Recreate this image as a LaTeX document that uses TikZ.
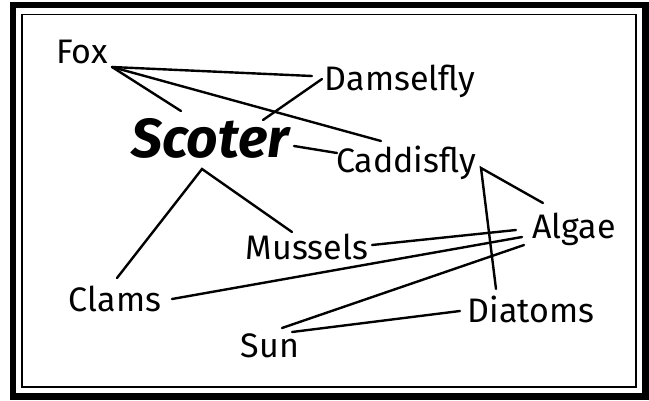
\documentclass[tikz,border=0pt]{standalone}
\usepackage{fontspec}
\setmainfont{Fira Sans}
\begin{document}
\begin{tikzpicture}[x=1pt,y=-1pt,
  lbl/.style={font=\fontsize{34}{38}\selectfont, inner sep=0pt, anchor=base},
  big/.style={font=\fontsize{55}{60}\selectfont\bfseries\itshape, inner sep=0pt, anchor=base},
  link/.style={line width=2.4pt, line cap=round},
  frame/.style={line width=6.5pt},
  innerframe/.style={line width=1.6pt}]
\useasboundingbox (0,0) rectangle (649,400);
\draw[frame] (13.2,5) rectangle (645.5,396.5);
\draw[innerframe] (21.8,14.5) rectangle (636.2,386.8);
% labels
\node[lbl] (fox) at (82,63) {Fox};
\node[lbl] (dam) at (400,90) {Damselfly};
\node[big] (sco) at (210,157) {Scoter};
\node[lbl] (cad) at (406,172) {Caddisfly};
\node[lbl] (alg) at (574,238) {Algae};
\node[lbl] (mus) at (307,259) {Mussels};
\node[lbl] (cla) at (115,311) {Clams};
\node[lbl] (dia) at (531,322) {Diatoms};
\node[lbl] (sun) at (270,357) {Sun};
% connector end points
\coordinate (foxA) at (112,67);
\coordinate (scoTL) at (181,111);
\coordinate (damL) at (312,76);
\coordinate (cadTL) at (381,141);
\coordinate (damB) at (322,79);
\coordinate (scoTR) at (263,120);
\coordinate (scoR) at (294,146);
\coordinate (cadL) at (337,153);
\coordinate (scoB) at (202,169);
\coordinate (claT) at (117,278);
\coordinate (musT) at (292,232);
\coordinate (cadR) at (481,168);
\coordinate (algT) at (543,203);
\coordinate (diaT) at (496,289);
\coordinate (algL1) at (516,230);
\coordinate (musR) at (372,245);
\coordinate (algL2) at (522,237);
\coordinate (claR) at (172,299);
\coordinate (algL3) at (524,245);
\coordinate (sunT) at (282,328);
\coordinate (sunR) at (292,332);
\coordinate (diaL) at (460,311);
% connectors
\draw[link] (foxA) -- (scoTL);
\draw[link] (foxA) -- (damL);
\draw[link] (foxA) -- (cadTL);
\draw[link] (damB) -- (scoTR);
\draw[link] (scoR) -- (cadL);
\draw[link] (claT) -- (scoB) -- (musT);
\draw[link] (algT) -- (cadR) -- (diaT);
\draw[link] (algL1) -- (musR);
\draw[link] (algL2) -- (claR);
\draw[link] (algL3) -- (sunT);
\draw[link] (sunR) -- (diaL);
\end{tikzpicture}
\end{document}
